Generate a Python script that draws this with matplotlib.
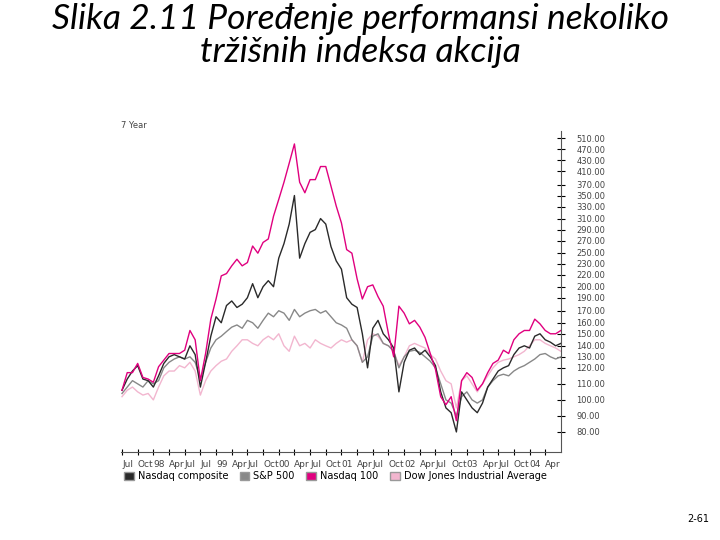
import matplotlib
matplotlib.use("Agg")
import matplotlib.pyplot as plt
from matplotlib.patches import Patch
import numpy as np

# monthly values, Jul 1997 .. mid 2004 (index = 100 at start)
nasdaq_100 = [106, 117, 117, 124, 114, 113, 111, 121, 127, 133, 133, 133, 136, 153, 145, 112,
              133, 163, 188, 218, 221, 228, 238, 228, 232, 261, 249, 267, 273, 314, 343, 377,
              425, 490, 377, 355, 385, 385, 419, 419, 367, 331, 302, 255, 249, 213, 188, 200,
              203, 191, 177, 150, 130, 177, 168, 159, 162, 156, 147, 133, 119, 102, 97, 102,
              87, 112, 117, 114, 106, 110, 117, 124, 127, 136, 133, 145, 150, 153, 153, 163,
              159, 153, 150, 150, 153]
nasdaq_comp = [106, 113, 118, 122, 113, 112, 108, 115, 124, 130, 132, 130, 128, 140, 132, 108,
               125, 148, 165, 160, 178, 185, 175, 180, 190, 205, 190, 200, 210, 200, 240, 265,
               300, 350, 240, 265, 285, 290, 310, 300, 260, 235, 225, 190, 180, 175, 150, 120,
               155, 162, 150, 145, 138, 105, 125, 136, 138, 132, 136, 130, 122, 105, 95, 92,
               80, 105, 100, 95, 92, 98, 108, 113, 118, 120, 122, 132, 138, 140, 138, 148,
               150, 145, 143, 140, 142]
sp500 = [104, 108, 112, 110, 108, 112, 110, 112, 120, 125, 128, 130, 128, 130, 125, 113,
         125, 138, 145, 148, 152, 156, 158, 155, 162, 160, 155, 162, 168, 165, 170, 168,
         162, 172, 165, 168, 170, 172, 168, 170, 165, 160, 158, 155, 145, 140, 125, 130,
         148, 150, 142, 140, 135, 120, 130, 135, 136, 134, 130, 126, 120, 110, 100, 98,
         90, 102, 105, 100, 98, 100, 108, 112, 115, 116, 115, 118, 120, 122, 125, 128,
         132, 133, 130, 128, 130]
dow_jones = [102, 106, 108, 105, 103, 104, 100, 108, 115, 118, 118, 122, 120, 125, 118, 103,
             112, 118, 122, 126, 128, 135, 140, 145, 145, 142, 140, 145, 148, 145, 150, 140,
             135, 148, 140, 142, 138, 145, 142, 140, 138, 142, 145, 143, 145, 140, 125, 145,
             150, 148, 142, 140, 135, 122, 130, 140, 142, 140, 138, 132, 128, 118, 112, 110,
             95, 112, 115, 110, 105, 110, 115, 120, 125, 127, 128, 130, 132, 135, 140, 145,
             145, 142, 140, 138, 135]

x_labels = ["Jul", "Oct", "98", "Apr", "Jul", "Jul", "99", "Apr", "Jul", "Oct", "00", "Apr",
            "Jul", "Oct", "01", "Apr", "Jul", "Oct", "02", "Apr", "Jul", "Oct", "03", "Apr",
            "Jul", "Oct", "04", "Apr"]
y_ticks = [80, 90, 100, 110, 120, 130, 140, 150, 160, 170, 190, 200, 220, 230, 250, 270,
           290, 310, 330, 350, 370, 410, 430, 470, 510]
# vertical position of each tick label on the original (non-uniform) axis
y_pos = [0, 16, 32, 48, 64, 75, 86, 98, 109, 121, 134, 145, 157, 168, 179, 191,
         202, 213, 225, 236, 247, 260, 271, 282, 293]

vals = np.array([60] + y_ticks + [560], dtype=float)
pos = np.array([-20] + y_pos + [305], dtype=float)


def fwd(v):
    return np.interp(v, vals, pos)


def inv(p):
    return np.interp(p, pos, vals)


fig = plt.figure(figsize=(7.2, 5.4), dpi=100)
fig.text(0.5, 0.995, "Slika 2.11 Poređenje performansi nekoliko\ntržišnih indeksa akcija",
         ha="center", va="top", fontsize=25.5, style="italic", fontweight="normal",
         family="Lato", linespacing=1.05)
fig.text(0.985, 0.03, "2-61", ha="right", va="bottom", fontsize=7)

ax = fig.add_axes([0.168, 0.163, 0.611, 0.594])
series = [(dow_jones, "#f2b6cf"), (sp500, "#888888"), (nasdaq_comp, "#2a2a2a"),
          (nasdaq_100, "#e0007f")]
for ys, c in series:
    ax.plot(np.arange(len(ys)), ys, color=c, lw=1.0)

ax.set_yscale("function", functions=(fwd, inv))
ax.set_ylim(60, 540)
ax.set_xlim(-0.2, 84)
ax.yaxis.tick_right()
ax.set_yticks(y_ticks)
ax.set_yticklabels([f"{v:.2f}" for v in y_ticks], fontsize=6, color="#444444")
ax.tick_params(axis="y", direction="inout", length=6, width=0.8, pad=8)
ax.set_xticks(np.arange(0, 84, 3))
ax.set_xticklabels(x_labels, fontsize=6.5, color="#444444", ha="left")
ax.tick_params(axis="x", direction="inout", length=5, width=0.8, pad=3)
for s in ("left", "top"):
    ax.spines[s].set_visible(False)
for s in ("right", "bottom"):
    ax.spines[s].set_color("#555555")
ax.text(0.0, 1.01, "7 Year", transform=ax.transAxes, fontsize=6, color="#444444")

handles = [Patch(facecolor="#2a2a2a", edgecolor="#999999"),
           Patch(facecolor="#888888", edgecolor="#999999"),
           Patch(facecolor="#e0007f", edgecolor="#999999"),
           Patch(facecolor="#f2b6cf", edgecolor="#999999")]
fig.legend(handles, ["Nasdaq composite", "S&P 500", "Nasdaq 100", "Dow Jones Industrial Average"],
           loc="center left", bbox_to_anchor=(0.16, 0.118), ncol=4, frameon=False,
           fontsize=7, handlelength=1.0, handleheight=1.0, columnspacing=1.2,
           handletextpad=0.4)

fig.savefig("out.png", dpi=100)
